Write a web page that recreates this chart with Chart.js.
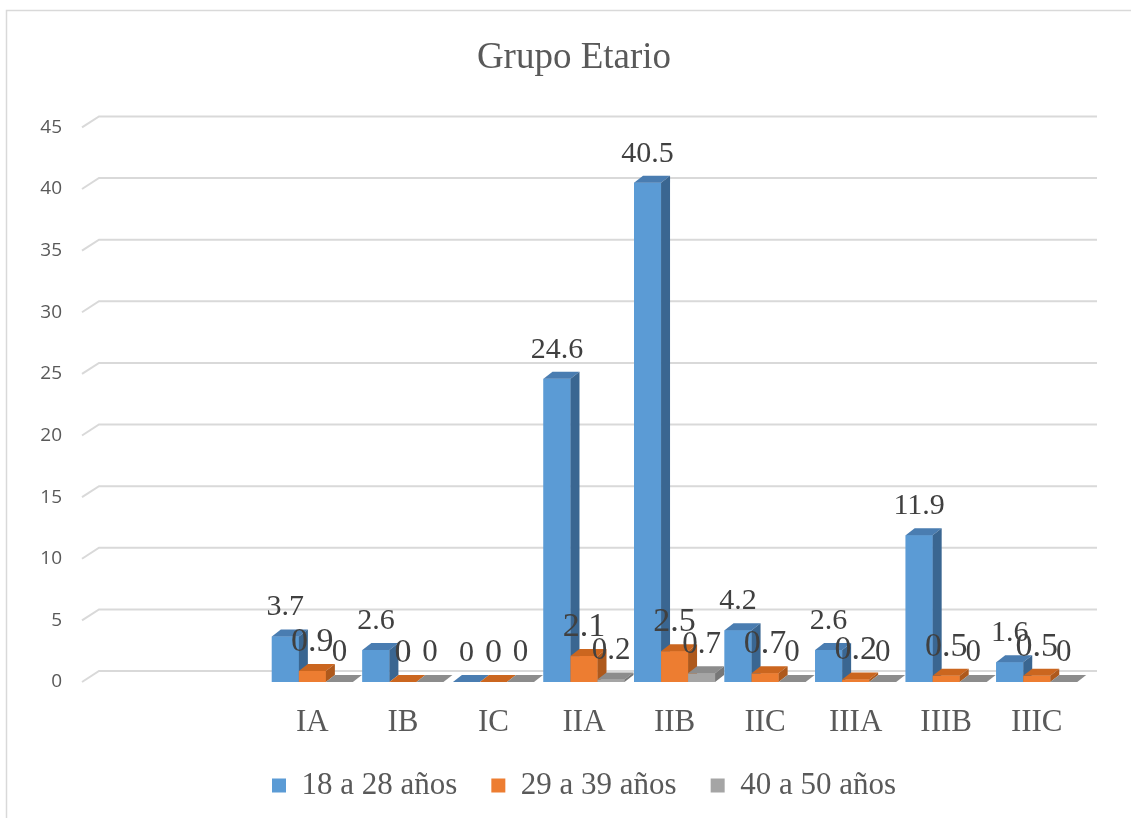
<!DOCTYPE html>
<html>
<head>
<meta charset="utf-8">
<script src="https://cdn.jsdelivr.net/npm/chart.js@4.4.1/dist/chart.umd.min.js"></script>
<style>
  html, body { margin: 0; padding: 0; background: #ffffff; }
  #wrap { width: 1131px; height: 818px; }
</style>
</head>
<body>
<div id="wrap"><canvas id="chart" width="1131" height="818"></canvas></div>
<script>
// Stage categories (two leading empty slots keep the original spacing)
const stages = ['', '', 'IA', 'IB', 'IC', 'IIA', 'IIB', 'IIC', 'IIIA', 'IIIB', 'IIIC'];
const age18to28 = [null, null, 3.7, 2.6, 0, 24.6, 40.5, 4.2, 2.6, 11.9, 1.6];
const age29to39 = [null, null, 0.9, 0, 0, 2.1, 2.5, 0.7, 0.2, 0.5, 0.5];
const age40to50 = [null, null, 0, 0, 0, 0.2, 0.7, 0, 0, 0, 0];
const seriesNames = ['18 a 28 años', '29 a 39 años', '40 a 50 años'];
const yMin = 0, yMax = 45, yStep = 5;

const SERIF = "'Times New Roman', 'Liberation Serif', serif";
const frontColors = ['#5B9BD5', '#ED7D31', '#A5A5A5'];
const topColors = ['#4A7DB1', '#CB661F', '#8C8C8C'];
const sideColors = ['#3A6691', '#AE591C', '#777777'];
const labelSizes = [30, 34, 31];
const DX = 9, DY = 7;          // bar depth offset
const WALL_DX = 15, WALL_DY = 11; // back wall offset for gridlines

// Outer frame of the chart
const framePlugin = {
  id: 'frame',
  beforeDraw(chart) {
    const ctx = chart.ctx;
    ctx.save();
    ctx.fillStyle = '#ffffff';
    ctx.fillRect(0, 0, chart.width, chart.height);
    ctx.strokeStyle = '#D9D9D9';
    ctx.lineWidth = 1.5;
    ctx.strokeRect(6.5, 10.5, 1300, 1000);
    ctx.restore();
  }
};

// Gridlines on the back wall with the slanted floor connector
const wallGridPlugin = {
  id: 'wallGrid',
  beforeDatasetsDraw(chart) {
    const ctx = chart.ctx, ys = chart.scales.y, area = chart.chartArea;
    ctx.save();
    ctx.strokeStyle = '#D9D9D9';
    ctx.lineWidth = 2;
    ys.ticks.forEach(t => {
      const yy = ys.getPixelForValue(t.value);
      ctx.beginPath();
      ctx.moveTo(area.left - 4, yy);
      ctx.lineTo(area.left + 13, yy - WALL_DY);
      ctx.lineTo(area.right + WALL_DX, yy - WALL_DY);
      ctx.stroke();
    });
    ctx.restore();
  }
};

// Boxes with top and side faces, painted series by series, then value labels
const bar3dPlugin = {
  id: 'bar3d',
  afterDatasetsDraw(chart) {
    const ctx = chart.ctx;
    ctx.save();
    chart.data.datasets.forEach((ds, i) => {
      const meta = chart.getDatasetMeta(i);
      meta.data.forEach((el, j) => {
        const v = ds.data[j];
        if (v === null || v === undefined) return;
        const p = el.getProps(['x', 'y', 'base', 'width'], true);
        const l = p.x - p.width / 2, r = p.x + p.width / 2;
        el.draw(ctx);
        ctx.fillStyle = topColors[i];
        ctx.beginPath();
        ctx.moveTo(l, p.y); ctx.lineTo(r, p.y);
        ctx.lineTo(r + DX, p.y - DY); ctx.lineTo(l + DX, p.y - DY);
        ctx.closePath(); ctx.fill();
        ctx.fillStyle = sideColors[i];
        ctx.beginPath();
        ctx.moveTo(r, p.y); ctx.lineTo(r + DX, p.y - DY);
        ctx.lineTo(r + DX, p.base - DY); ctx.lineTo(r, p.base);
        ctx.closePath(); ctx.fill();
      });
    });
    ctx.fillStyle = '#404040';
    ctx.textAlign = 'center';
    ctx.textBaseline = 'middle';
    chart.data.datasets.forEach((ds, i) => {
      const meta = chart.getDatasetMeta(i);
      ctx.font = labelSizes[i] + 'px ' + SERIF;
      meta.data.forEach((el, j) => {
        const v = ds.data[j];
        if (v === null || v === undefined) return;
        const p = el.getProps(['x', 'y'], true);
        ctx.fillText(String(v), p.x, p.y - 29);
      });
    });
    ctx.restore();
  }
};

const seriesData = [age18to28, age29to39, age40to50];

new Chart(document.getElementById('chart'), {
  type: 'bar',
  data: {
    labels: stages,
    datasets: seriesData.map((d, i) => ({
      label: seriesNames[i],
      data: d,
      backgroundColor: frontColors[i],
      borderWidth: 0,
      categoryPercentage: 0.895,
      barPercentage: 1.0
    }))
  },
  options: {
    responsive: false,
    animation: false,
    events: [],
    layout: { padding: { top: 10, left: 17, right: 0, bottom: 7 } },
    scales: {
      x: {
        type: 'category',
        grid: { display: false, drawTicks: false },
        border: { display: false },
        ticks: {
          color: '#595959',
          font: { family: SERIF, size: 31 },
          padding: 22,
          maxRotation: 0,
          autoSkip: false
        },
        afterFit(s) { s.height = 54; }
      },
      y: {
        min: yMin,
        max: yMax,
        grid: { display: false, drawTicks: false },
        border: { display: false },
        ticks: {
          stepSize: yStep,
          color: '#595959',
          font: { family: "'Open Sans', sans-serif", size: 19 },
          padding: 24
        },
        afterFit(s) { s.width = 69; }
      },
      edge: {
        type: 'linear',
        position: 'right',
        grid: { display: false, drawTicks: false },
        border: { display: false },
        ticks: { display: false },
        afterFit(s) { s.width = 49; }
      }
    },
    plugins: {
      title: {
        display: true,
        text: 'Grupo Etario',
        color: '#595959',
        font: { family: SERIF, size: 37, weight: 'normal' },
        padding: { top: 26, bottom: 47 }
      },
      legend: {
        position: 'bottom',
        fullSize: false,
        labels: {
          color: '#595959',
          font: { family: SERIF, size: 31 },
          boxWidth: 14,
          boxHeight: 14,
          padding: 34
        }
      },
      tooltip: { enabled: false }
    }
  },
  plugins: [framePlugin, wallGridPlugin, bar3dPlugin]
});
</script>
</body>
</html>
